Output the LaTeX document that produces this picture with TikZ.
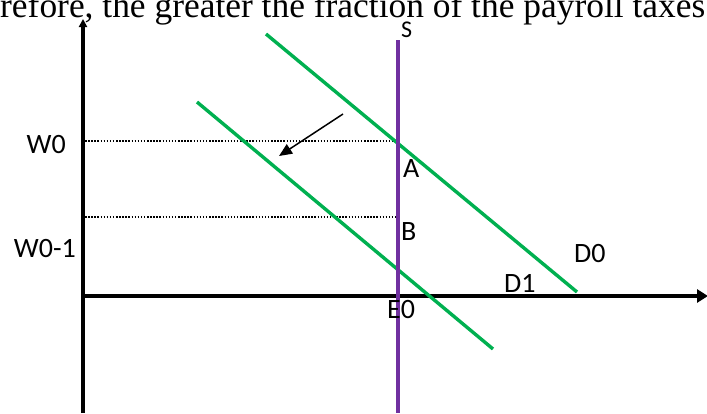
\documentclass[tikz,border=0pt]{standalone}
\usepackage{fontspec}
\setmainfont{Liberation Serif}
\newfontfamily\calib{Carlito}
\usetikzlibrary{arrows.meta}
\definecolor{dgreen}{HTML}{00B050}
\definecolor{spurple}{HTML}{7030A0}
\begin{document}
\begin{tikzpicture}[x=1pt,y=-1pt,
  lbl/.style={font=\calib\fontsize{28}{30}\selectfont, inner sep=0pt},
  axisline/.style={line width=3.4pt, black},
  demand/.style={line width=3.4pt, dgreen},
  supply/.style={line width=3.2pt, spurple},
  guide/.style={line width=1.5pt, black, dash pattern=on 1.5pt off 1.6pt},
  shiftarrow/.style={line width=1.5pt, black, -{Triangle[length=13pt,width=11pt]}}]
\useasboundingbox (0,0) rectangle (707,413);
\begin{scope}
\clip (0,0) rectangle (707,413);
\node[anchor=base west, inner sep=0pt] (top) at (0,17.5)
  {\resizebox{705pt}{!}{\strut refore, the greater the fraction of the payroll taxes}};
\end{scope}
% coordinates
\coordinate (o) at (83,296);
\coordinate (ybot) at (83,413);
\coordinate (ytop) at (83,19);
\coordinate (xend) at (708,296);
\coordinate (stop) at (398,40);
\coordinate (sbot) at (398,413);
\coordinate (d0a) at (266,34);
\coordinate (d0b) at (577,292);
\coordinate (d1a) at (197,102);
\coordinate (d1b) at (493,349);
\coordinate (w0l) at (85,141);
\coordinate (w0r) at (398,141);
\coordinate (w1l) at (85,217);
\coordinate (w1r) at (398,217);
\coordinate (arra) at (343,114);
\coordinate (arrb) at (279,156);
% axes
\draw[axisline, -{Triangle[length=8pt,width=8pt]}] (ybot) -- (ytop);
\draw[axisline, -{Triangle[length=11pt,width=13pt]}] (o) -- (xend);
% guides
\draw[guide] (w0l) -- (w0r);
\draw[guide] (w1l) -- (w1r);
% curves
\draw[demand] (d0a) -- (d0b);
\draw[demand] (d1a) -- (d1b);
\draw[supply] (stop) -- (sbot);
\draw[shiftarrow] (arra) -- (arrb);
% labels
\node[lbl, anchor=base east] (w0) at (66,153) {W0};
\node[lbl, anchor=base east] (w01) at (76,257) {W0-1};
\node[lbl, anchor=base west] (la) at (403,177) {A};
\node[lbl, anchor=base west] (lb) at (401,240) {B};
\node[lbl, anchor=base west] (ld0) at (574,262) {D0};
\node[lbl, anchor=base west] (ld1) at (504,292) {D1};
\node[lbl, anchor=base west] (le0) at (387,318) {E0};
\node[font=\calib\fontsize{24}{25}\selectfont, inner sep=0pt, anchor=base west] (ls) at (401,37) {S};
\end{tikzpicture}
\end{document}
